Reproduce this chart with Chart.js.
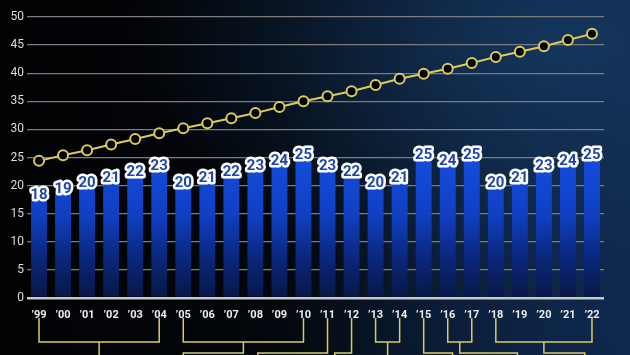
<!DOCTYPE html>
<html>
<head>
<meta charset="utf-8">
<script src="https://cdn.jsdelivr.net/npm/chart.js@4.4.1/dist/chart.umd.min.js"></script>
<style>
  html, body { margin: 0; padding: 0; }
  body {
    width: 630px; height: 355px; overflow: hidden;
    background:
      radial-gradient(ellipse 420px 260px at 560px 40px, rgba(22,58,100,0.85), rgba(22,58,100,0) 100%),
      radial-gradient(ellipse 300px 220px at 620px 300px, rgba(14,40,80,0.8), rgba(14,40,80,0) 100%),
      linear-gradient(100deg, #010203 0%, #03060b 45%, #0a1c33 80%, #0e2644 100%);
  }
  canvas { display: block; }
</style>
</head>
<body>
<canvas id="chart" width="630" height="355"></canvas>
<script>
// years on the x axis
var years = ["’99","’00","’01","’02","’03","’04","’05","’06","’07","’08","’09","’10",
             "’11","’12","’13","’14","’15","’16","’17","’18","’19","’20","’21","’22"];
// bar values
var barValues = [18,19,20,21,22,23,20,21,22,23,24,25,23,22,20,21,25,24,25,20,21,23,24,25];
// line values (yellow)
var lineValues = [24.4,25.4,26.3,27.3,28.3,29.3,30.2,31.1,32.0,32.9,34.0,35.0,
                  35.9,36.8,37.9,39.0,39.9,40.8,41.8,42.9,43.8,44.8,45.9,47.0];
// brackets under the axis: groups of year indexes, and where each tail runs to
var groups = [[0,5],[6,11],[12],[13],[14,15],[16],[17,18],[19,23]];
var tails = [null, 6, 9.1, 12.3, null, 17.2, 19.9, 22.7];

var yellow = '#dccb5c';

// draws the value labels on top of the bars
var barLabels = {
    id: 'barLabels',
    afterDatasetsDraw: function(chart) {
        var ctx = chart.ctx;
        var meta = chart.getDatasetMeta(0);
        ctx.save();
        ctx.font = 'bold 15px Roboto, "DejaVu Sans", sans-serif';
        ctx.textAlign = 'center';
        ctx.textBaseline = 'middle';
        ctx.lineJoin = 'round';
        meta.data.forEach(function(bar, i) {
            var txt = String(barValues[i]);
            ctx.lineWidth = 5;
            ctx.strokeStyle = '#ffffff';
            ctx.strokeText(txt, bar.x, bar.y - 2);
            ctx.fillStyle = '#1f44ad';
            ctx.fillText(txt, bar.x, bar.y - 2);
        });
        ctx.restore();
    }
};

// draws the yellow brackets below the year labels
var brackets = {
    id: 'brackets',
    afterDraw: function(chart) {
        var ctx = chart.ctx;
        var x = chart.scales.x;
        var b = chart.chartArea.bottom;
        var y0 = b + 20, y1 = b + 44, y2 = b + 55, yEnd = chart.height + 2;
        ctx.save();
        ctx.strokeStyle = yellow;
        ctx.lineWidth = 1.5;
        groups.forEach(function(g, i) {
            var stem;
            ctx.beginPath();
            if (g.length === 2) {
                var xa = x.getPixelForValue(g[0]), xb = x.getPixelForValue(g[1]);
                ctx.moveTo(xa, y0); ctx.lineTo(xa, y1); ctx.lineTo(xb, y1); ctx.lineTo(xb, y0);
                stem = (xa + xb) / 2;
                ctx.moveTo(stem, y1);
            } else {
                stem = x.getPixelForValue(g[0]);
                ctx.moveTo(stem, y0);
            }
            if (tails[i] === null) {
                ctx.lineTo(stem, yEnd);
            } else {
                var xt = x.getPixelForValue(tails[i]);
                ctx.lineTo(stem, y2); ctx.lineTo(xt, y2); ctx.lineTo(xt, yEnd);
            }
            ctx.stroke();
        });
        ctx.restore();
    }
};

var ctx = document.getElementById('chart').getContext('2d');
var chart = new Chart(ctx, {
    data: {
        labels: years,
        datasets: [{
            type: 'bar',
            data: barValues,
            order: 1,
            barPercentage: 0.72,
            categoryPercentage: 0.92,
            backgroundColor: function(c) {
                var area = c.chart.chartArea;
                if (!area) return '#1448d8';
                var g = c.chart.ctx.createLinearGradient(0, area.top, 0, area.bottom);
                g.addColorStop(0, '#1d5cf0');
                g.addColorStop(0.45, '#1650e4');
                g.addColorStop(0.7, '#1040c4');
                g.addColorStop(0.88, '#0b2472');
                g.addColorStop(1, '#081745');
                return g;
            }
        }, {
            type: 'line',
            data: lineValues,
            order: 0,
            borderColor: yellow,
            borderWidth: 2,
            pointRadius: 5,
            pointBorderWidth: 2,
            pointBackgroundColor: '#000000',
            pointBorderColor: yellow
        }]
    },
    options: {
        responsive: false,
        animation: false,
        devicePixelRatio: 1,
        layout: { padding: { top: 17, right: 26, left: 0, bottom: 0 } },
        plugins: { legend: { display: false }, tooltip: { enabled: false } },
        scales: {
            x: {
                offset: true,
                grid: { display: false },
                border: { display: false },
                ticks: {
                    color: '#eeeeee', padding: 3, autoSkip: false, maxRotation: 0, minRotation: 0,
                    font: { family: 'Roboto, "DejaVu Sans", sans-serif', size: 11, weight: 'bold' }
                },
                afterFit: function(s) { s.height = 57; }
            },
            y: {
                min: 0, max: 50,
                border: { display: false },
                grid: {
                    drawTicks: false,
                    color: function(c) { return c.tick.value === 0 ? '#c8c8c8' : '#7c7c80'; },
                    lineWidth: function(c) { return c.tick.value === 0 ? 2.5 : 1.2; }
                },
                ticks: {
                    stepSize: 5, color: '#dddddd', padding: 3,
                    font: { family: 'Roboto, "DejaVu Sans", sans-serif', size: 12 }
                },
                afterFit: function(s) { s.width = 27; }
            }
        }
    },
    plugins: [barLabels, brackets]
});
</script>
</body>
</html>
